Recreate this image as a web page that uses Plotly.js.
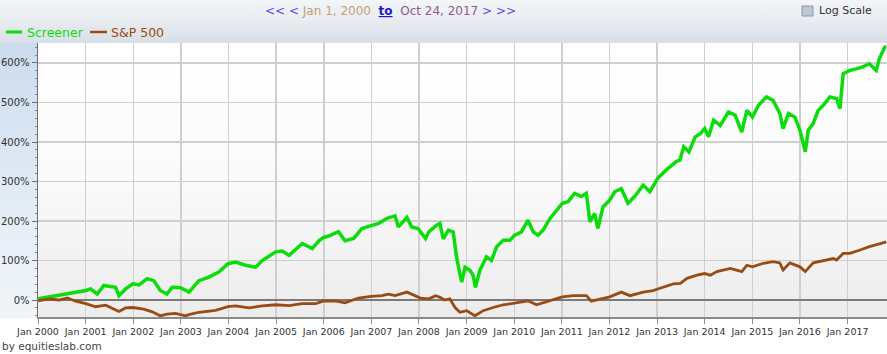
<!DOCTYPE html>
<html>
<head>
<meta charset="utf-8">
<script src="https://cdn.plot.ly/plotly-3.0.1.min.js"></script>
<style>
  html, body { margin:0; padding:0; background:#ffffff; }
  #wrap { position:relative; width:887px; height:354px; overflow:hidden; background:#ffffff; }
  #hdr { position:absolute; left:0; top:0; width:887px; height:43px;
         background:linear-gradient(to bottom, #f3f5f7 0%, #e8ecf0 50%, #d7dfe7 100%); }
  #band { position:absolute; left:0; top:43px; width:38px; height:275px;
          background:linear-gradient(to bottom, #cbdcee 0%, #e4ecf5 60%, #f1f5f9 100%); }
  #plotbg { position:absolute; left:38px; top:43px; width:849px; height:274px;
            background:linear-gradient(to bottom, #ffffff 0%, #fafafa 50%, #ececec 100%); }
  #chart { position:absolute; left:0; top:0; width:887px; height:354px; }
</style>
</head>
<body>
<div id="wrap">
  <div id="hdr"></div>
  <div id="band"></div>
  <div id="plotbg"></div>
  <div id="chart"></div>
</div>
<script>
// ---- Data (cumulative return, %) ----
const screenerDates = ["2000-01-03","2000-03-25","2000-07-05","2000-09-20","2001-01-02","2001-02-08","2001-03-30","2001-05-20","2001-08-18","2001-09-13","2001-11-03","2001-12-28","2002-02-14","2002-04-17","2002-06-07","2002-07-27","2002-09-16","2002-10-26","2002-12-29","2003-03-04","2003-05-19","2003-08-04","2003-10-19","2003-12-29","2004-02-24","2004-05-11","2004-07-27","2004-09-16","2004-12-28","2005-02-17","2005-04-10","2005-07-20","2005-10-04","2005-11-25","2005-12-28","2006-02-08","2006-04-23","2006-06-13","2006-08-18","2006-10-20","2006-12-29","2007-02-25","2007-05-01","2007-07-02","2007-07-27","2007-10-01","2007-11-06","2007-12-25","2008-02-20","2008-03-18","2008-05-19","2008-06-10","2008-07-05","2008-08-14","2008-09-20","2008-10-15","2008-11-10","2008-11-24","2008-12-19","2009-01-26","2009-02-20","2009-03-09","2009-04-12","2009-06-02","2009-07-10","2009-08-18","2009-10-08","2009-11-28","2010-01-04","2010-02-24","2010-04-16","2010-05-27","2010-07-02","2010-08-10","2010-10-01","2010-11-21","2011-01-05","2011-02-18","2011-04-09","2011-05-30","2011-07-08","2011-08-04","2011-09-10","2011-10-04","2011-11-13","2012-01-04","2012-02-10","2012-04-01","2012-05-22","2012-07-12","2012-09-16","2012-11-06","2013-01-05","2013-03-14","2013-05-30","2013-06-24","2013-07-24","2013-09-02","2013-10-20","2013-11-28","2014-01-01","2014-01-30","2014-03-10","2014-04-30","2014-07-02","2014-08-22","2014-10-12","2014-11-20","2015-01-02","2015-02-17","2015-04-20","2015-06-10","2015-07-31","2015-08-25","2015-10-05","2015-11-24","2016-01-01","2016-02-11","2016-03-05","2016-04-12","2016-05-20","2016-06-28","2016-08-18","2016-10-08","2016-11-03","2016-11-28","2017-01-18","2017-03-08","2017-04-27","2017-06-17","2017-08-08","2017-09-02","2017-10-12","2017-10-24"];
const screenerValues = [3,8,13,17,24,28,15,37,32,11,28,41,38,54,49,24,15,32,31,20,49,58,71,92,96,88,83,100,122,124,113,143,130,150,158,162,173,150,156,181,187,194,207,213,185,209,185,181,156,173,190,194,155,177,172,109,66,45,83,75,62,32,75,109,100,134,151,151,164,172,202,172,164,177,206,228,245,249,270,262,270,198,219,181,236,253,274,282,245,262,291,274,308,330,351,354,388,375,413,421,434,413,455,442,476,468,425,480,463,493,514,505,472,434,472,463,430,375,430,447,480,493,514,510,484,573,581,585,590,598,581,611,640,642];

const spDates = ["2000-01-03","2000-03-25","2000-06-10","2000-08-13","2000-10-16","2001-01-02","2001-03-18","2001-06-03","2001-09-13","2001-11-03","2001-12-28","2002-03-22","2002-05-27","2002-07-27","2002-09-16","2002-11-21","2003-02-07","2003-03-04","2003-05-19","2003-09-24","2003-12-29","2004-02-24","2004-06-07","2004-09-16","2004-12-28","2005-04-10","2005-07-20","2005-10-30","2005-12-28","2006-03-28","2006-06-13","2006-09-24","2006-12-29","2007-03-22","2007-05-12","2007-07-02","2007-10-01","2007-12-05","2008-01-12","2008-03-18","2008-05-08","2008-06-10","2008-07-15","2008-08-25","2008-10-04","2008-11-10","2009-01-01","2009-03-05","2009-05-08","2009-07-23","2009-10-08","2010-01-04","2010-04-16","2010-06-21","2010-10-01","2011-01-05","2011-03-29","2011-07-08","2011-08-15","2011-10-20","2012-01-04","2012-04-01","2012-06-07","2012-09-16","2012-12-01","2013-01-05","2013-05-05","2013-06-28","2013-08-18","2013-11-03","2014-01-01","2014-02-13","2014-04-05","2014-07-16","2014-10-12","2014-11-20","2015-01-02","2015-03-26","2015-06-10","2015-07-31","2015-08-25","2015-10-16","2015-12-06","2016-01-01","2016-02-11","2016-04-12","2016-09-12","2016-10-08","2016-11-28","2017-01-18","2017-04-01","2017-06-17","2017-09-02","2017-10-12","2017-10-24"];
const spValues = [-2,3,0,5,-3,-9,-17,-13,-29,-20,-19,-23,-30,-40,-36,-34,-40,-37,-31,-26,-17,-15,-20,-15,-12,-14,-9,-9,-3,-2,-7,5,9,11,15,11,20,11,5,3,11,7,0,3,-19,-31,-27,-40,-27,-19,-12,-8,-2,-12,-2,8,11,11,-3,3,8,20,11,20,24,28,41,42,55,63,67,63,72,80,72,88,84,93,97,94,76,94,88,84,72,94,105,101,118,118,126,135,142,147,147];

const seriesNames = ["Screener", "S&P 500"];
const yTickVals = [0,100,200,300,400,500,600];
const yTickText = ["0%","100%","200%","300%","400%","500%","600%"];
const navFrom = "Jan 1, 2000";
const navTo = "Oct 24, 2017";

// ---- Layout helpers (pixel -> paper) ----
const L = 38, T = 43, W = 849, H = 274;
const px = x => (x - L) / W;
const py = y => (T + H - y) / H;

const GREEN = "#0bdc0b", BROWN = "#9a4b14";
const FONT = "DejaVu Sans, Verdana, sans-serif";

const traces = [
  { x: screenerDates, y: screenerValues, name: seriesNames[0], type: "scatter", mode: "lines",
    line: { color: GREEN, width: 3.5 }, showlegend: false, hoverinfo: "skip" },
  { x: spDates, y: spValues, name: seriesNames[1], type: "scatter", mode: "lines",
    line: { color: BROWN, width: 2.8 }, showlegend: false, hoverinfo: "skip" }
];

const layout = {
  width: 887, height: 354,
  margin: { l: L, r: 887 - L - W, t: T, b: 354 - T - H, pad: 0 },
  paper_bgcolor: "rgba(0,0,0,0)",
  plot_bgcolor: "rgba(0,0,0,0)",
  font: { family: FONT, size: 10, color: "#333333" },
  xaxis: {
    type: "date",
    range: ["2000-01-01", "2017-10-30"],
    tick0: "2000-01-01", dtick: "M12", tickformat: "%b %Y",
    showgrid: true, gridcolor: "#cfcfcf", gridwidth: 1.5,
    showline: true, linecolor: "#8a8a8a", linewidth: 2,
    ticks: "outside", ticklen: 5, tickcolor: "#8a8a8a", tickwidth: 1,
    tickfont: { family: FONT, size: 9.5, color: "#333333" },
    zeroline: false, fixedrange: true
  },
  yaxis: {
    range: [-43, 650.6],
    tickvals: yTickVals, ticktext: yTickText,
    showgrid: true, gridcolor: "#cfcfcf", gridwidth: 1.5,
    showline: true, linecolor: "#6e6e6e", linewidth: 1.5,
    ticks: "outside", ticklen: 5, tickcolor: "#6e6e6e", tickwidth: 1,
    minor: { dtick: 20, ticks: "outside", ticklen: 2, tickcolor: "#888888", showgrid: false },
    zeroline: true, zerolinecolor: "#7a7a7a", zerolinewidth: 2,
    tickfont: { family: FONT, size: 10, color: "#333333" },
    fixedrange: true
  },
  shapes: [
    { type: "line", xref: "paper", yref: "paper", x0: px(6), x1: px(22), y0: py(32), y1: py(32),
      line: { color: GREEN, width: 3 } },
    { type: "line", xref: "paper", yref: "paper", x0: px(90), x1: px(107), y0: py(32), y1: py(32),
      line: { color: BROWN, width: 2.5 } },
    { type: "rect", xref: "paper", yref: "paper", x0: px(802), x1: px(813), y0: py(6), y1: py(16),
      fillcolor: "#b9c6d3", line: { color: "#8c9aa8", width: 1 } }
  ],
  annotations: [
    { xref: "paper", yref: "paper", x: px(390), y: py(11), xanchor: "center", yanchor: "middle",
      showarrow: false, font: { family: FONT, size: 12, color: "#4a4ae6" },
      text: '<span style="color:#5050e8">&lt;&lt; &lt;</span> <span style="color:#c2a073">' + navFrom +
            '</span>  <b><span style="color:#1a1acc;text-decoration:underline">to</span></b>  <span style="color:#8f5a8f">' + navTo +
            '</span> <span style="color:#5050e8">&gt; &gt;&gt;</span>' },
    { xref: "paper", yref: "paper", x: px(817), y: py(11), xanchor: "left", yanchor: "middle",
      showarrow: false, font: { family: FONT, size: 11, color: "#333333" }, text: "Log Scale" },
    { xref: "paper", yref: "paper", x: px(25), y: py(32), xanchor: "left", yanchor: "middle",
      showarrow: false, font: { family: FONT, size: 12.5, color: GREEN }, text: seriesNames[0] },
    { xref: "paper", yref: "paper", x: px(109), y: py(32), xanchor: "left", yanchor: "middle",
      showarrow: false, font: { family: FONT, size: 12.5, color: BROWN }, text: seriesNames[1] },
    { xref: "paper", yref: "paper", x: px(0), y: py(346), xanchor: "left", yanchor: "middle",
      showarrow: false, font: { family: FONT, size: 10.5, color: "#444444" }, text: "by equitieslab.com" }
  ]
};

Plotly.newPlot("chart", traces, layout, { displayModeBar: false, staticPlot: true });
</script>
</body>
</html>
